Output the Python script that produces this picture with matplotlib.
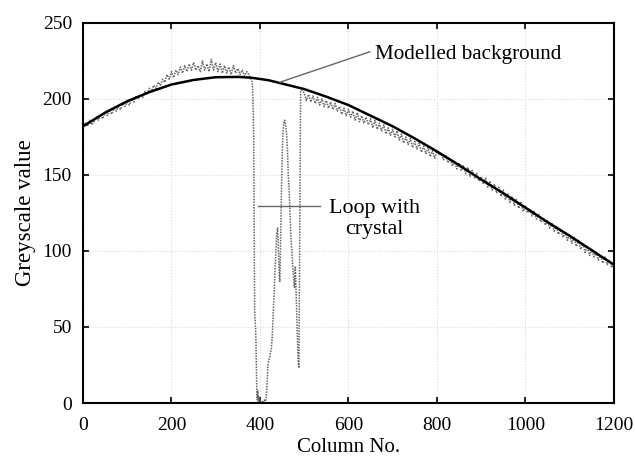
import numpy as np
import matplotlib.pyplot as plt

plt.rcParams['font.family'] = ['Liberation Serif', 'DejaVu Serif']

# Modelled background
bg_cols = [0, 50, 100, 150, 200, 250, 300, 350, 380, 420, 500, 550, 600, 650, 700,
           750, 800, 850, 900, 950, 1000, 1050, 1100, 1150, 1200]
bg_vals = [182, 191, 198.5, 204.5, 209.5, 212.5, 214.3, 214.5, 214, 212.3, 206.5, 201.5,
           196, 189, 182, 174, 165.5, 156.5, 147, 138, 128.5, 119, 110, 100.5, 91]

# Measured profile, left of the loop (columns 0..370, step 5)
left_vals = [180, 184, 182, 186, 183, 185, 188, 186, 189, 187,
             191, 189, 192, 190, 194, 192, 195, 193, 197, 195,
             198, 196, 200, 198, 202, 200, 203, 201, 205, 203,
             207, 205, 209, 207, 211, 209, 213, 211, 216, 213,
             218, 214, 219, 216, 221, 217, 222, 218, 223, 219,
             224, 219, 222, 218, 225, 219, 223, 218, 226, 219,
             224, 218, 223, 217, 222, 217, 221, 216, 222, 217,
             220, 216, 219, 215, 218]

# Loop with crystal (dense columns)
loop_cols = [375, 378, 381, 383, 385, 386, 387, 388, 389, 390, 391, 392, 393, 394, 395,
             396, 397, 398, 400, 402, 405, 408, 410, 412, 414, 416, 418, 420, 422, 424,
             426, 428, 430, 432, 434, 436, 438, 440, 442, 444, 445, 446, 448, 450, 452,
             454, 456, 458, 460, 462, 464, 466, 468, 470, 472, 474, 476, 478, 480, 482,
             484, 486, 488, 490, 492, 495]
loop_vals = [216, 214, 212, 211, 190, 172, 120, 60, 55, 50, 40, 20, 5, 2, 8,
             3, 0, 4, 1, 0, 1, 0, 2, 0, 4, 12, 24, 28, 30, 33,
             36, 45, 60, 72, 87, 100, 112, 115, 98, 82, 80, 95, 130, 160, 178,
             184, 186, 183, 178, 168, 150, 140, 125, 109, 100, 90, 82, 76, 90, 70,
             50, 30, 23, 120, 205, 206]

# Right of the loop (columns 500..1200, step 5)
right_vals = [204, 199, 203, 198, 202, 197, 201, 196, 200, 195,
              199, 194, 198, 193, 197, 192, 195, 190, 194, 189,
              193, 188, 192, 186, 191, 185, 189, 184, 188, 183,
              187, 181, 186, 180, 184, 179, 183, 177, 181, 176,
              180, 175, 179, 173, 177, 171, 175, 170, 174, 168,
              172, 167, 171, 165, 169, 164, 168, 162, 166, 161,
              166, 163, 164, 160, 163, 158, 161, 156, 159, 154,
              158, 153, 156, 151, 155, 149, 153, 148, 151, 146,
              149, 144, 148, 142, 146, 140, 144, 138, 142, 136,
              140, 134, 138, 132, 136, 130, 134, 128, 132, 126,
              130, 125, 128, 123, 126, 121, 124, 119, 122, 117,
              120, 115, 118, 113, 116, 111, 114, 109, 112, 107,
              111, 105, 109, 103, 107, 101, 105, 99, 103, 97,
              101, 96, 99, 94, 97, 92, 96, 91, 94, 89,
              92]

left_cols = np.arange(0, 371, 5)
right_cols = np.arange(500, 1201, 5)
cols = np.concatenate([left_cols, loop_cols, right_cols])
vals = np.concatenate([left_vals, loop_vals, right_vals])

fig = plt.figure(figsize=(6.35, 4.59), dpi=100)
ax = fig.add_axes([0.1307, 0.122, 0.836, 0.828])

ax.plot(cols, vals, color='0.4', lw=1.1, linestyle=(0, (1, 0.8)))
ax.plot(bg_cols, bg_vals, color='black', lw=1.8)

# annotations
ax.plot([445, 648], [211, 231], color='0.4', lw=1)
ax.text(660, 229, 'Modelled background', fontsize=15.2, va='center', ha='left')
ax.plot([395, 536], [129.6, 129.6], color='0.4', lw=1)
ax.text(658, 121, 'Loop with\ncrystal', fontsize=15.8, va='center', ha='center',
        linespacing=1.2)

ax.set_xlim(0, 1200)
ax.set_ylim(0, 250)
ax.set_xticks([0, 200, 400, 600, 800, 1000, 1200])
ax.set_yticks([0, 50, 100, 150, 200, 250])
ax.grid(True, color='0.85', linestyle=':', lw=0.8)
ax.tick_params(direction='in', top=True, right=True, labelsize=14, length=4, width=1.2)
ax.tick_params(axis='x', pad=10)
ax.tick_params(axis='y', pad=8)
for s in ax.spines.values():
    s.set_linewidth(1.5)

ax.set_xlabel('Column No.', fontsize=15, labelpad=3)
ax.set_ylabel('Greyscale value', fontsize=16.5, labelpad=5)

fig.savefig('out.png', dpi=100)
